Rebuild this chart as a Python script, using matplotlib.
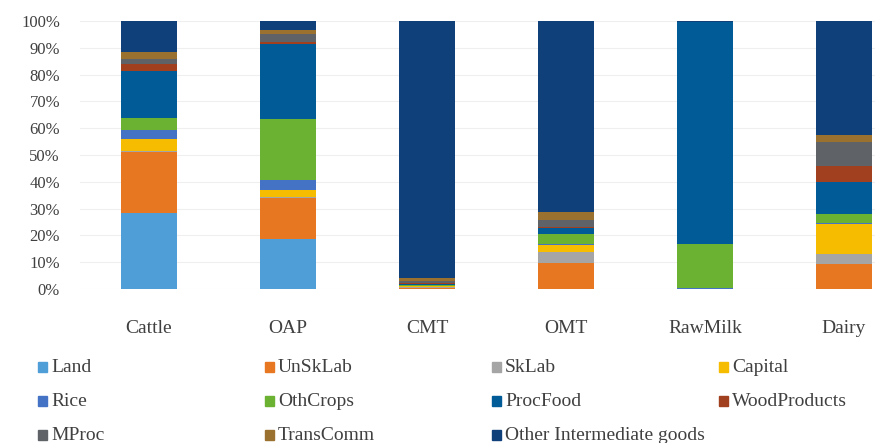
import numpy as np
import matplotlib.pyplot as plt
from matplotlib.patches import Rectangle

plt.rcParams['font.family'] = ['Liberation Serif', 'DejaVu Serif']

categories = ['Cattle', 'OAP', 'CMT', 'OMT', 'RawMilk', 'Dairy']
components = ['Land', 'UnSkLab', 'SkLab', 'Capital', 'Rice', 'OthCrops',
              'ProcFood', 'WoodProducts', 'MProc', 'TransComm',
              'Other Intermediate goods']

# shares (%) per component, one value per category
land = [28.4, 18.8, 0.0, 0.0, 0.0, 0.0]
unsklab = [22.8, 15.3, 0.5, 9.8, 0.0, 9.4]
sklab = [0.3, 0.3, 0.3, 4.1, 0.0, 3.7]
capital = [4.4, 2.7, 0.3, 2.7, 0.0, 11.3]
rice = [3.4, 3.5, 0.0, 0.3, 0.5, 0.3]
othcrops = [4.4, 22.8, 0.3, 3.7, 16.4, 3.2]
procfood = [17.5, 28.1, 0.3, 2.3, 82.8, 12.1]
woodproducts = [2.9, 0.5, 0.5, 0.3, 0.0, 5.9]
mproc = [1.9, 3.0, 0.8, 2.7, 0.0, 9.1]
transcomm = [2.5, 1.5, 1.0, 2.9, 0.0, 2.5]
other_goods = [11.6, 3.5, 96.0, 71.2, 0.3, 42.5]

colors = ['#4F9ED8', '#E87722', '#A5A5A5', '#F5BC00', '#4472C4', '#6BB232',
          '#005B96', '#A1401F', '#5F6368', '#9B7130', '#10407A']

series = [land, unsklab, sklab, capital, rice, othcrops, procfood,
          woodproducts, mproc, transcomm, other_goods]

text_col = '#404040'

fig = plt.figure(figsize=(8.75, 4.43), dpi=100)
ax = fig.add_axes([79.5 / 875, 154 / 443, 834 / 875, 268 / 443])

x = np.arange(len(categories))
bottom = np.zeros(len(categories))
for vals, col in zip(series, colors):
    vals = np.array(vals)
    ax.bar(x, vals, width=0.4, bottom=bottom, color=col, linewidth=0)
    bottom += vals

ax.set_xlim(-0.5, 5.5)
ax.set_ylim(0, 100)
ax.set_yticks(np.arange(0, 101, 10))
ax.set_yticklabels([f'{v}%' for v in range(0, 101, 10)], fontsize=12, color=text_col)
ax.set_xticks(x)
ax.set_xticklabels(categories, fontsize=14, color=text_col)
ax.tick_params(axis='both', length=0)
ax.tick_params(axis='x', pad=22)
ax.tick_params(axis='y', pad=14)
ax.yaxis.grid(True, color='#EFEFEF', linewidth=0.8)
ax.set_axisbelow(True)
for s in ax.spines.values():
    s.set_visible(False)

# legend laid out in rows of four, as in the source figure
for i, (name, col) in enumerate(zip(components, colors)):
    row, c = divmod(i, 4)
    px = 38 + c * 227
    py = 367 + row * 34
    fig.patches.append(Rectangle((px / 875, 1 - (py + 5) / 443), 9 / 875, 10 / 443,
                                 transform=fig.transFigure, color=col))
    fig.text((px + 13) / 875, 1 - py / 443, name, fontsize=14, va='center',
             ha='left', color=text_col)

fig.savefig('out.png', dpi=100)
